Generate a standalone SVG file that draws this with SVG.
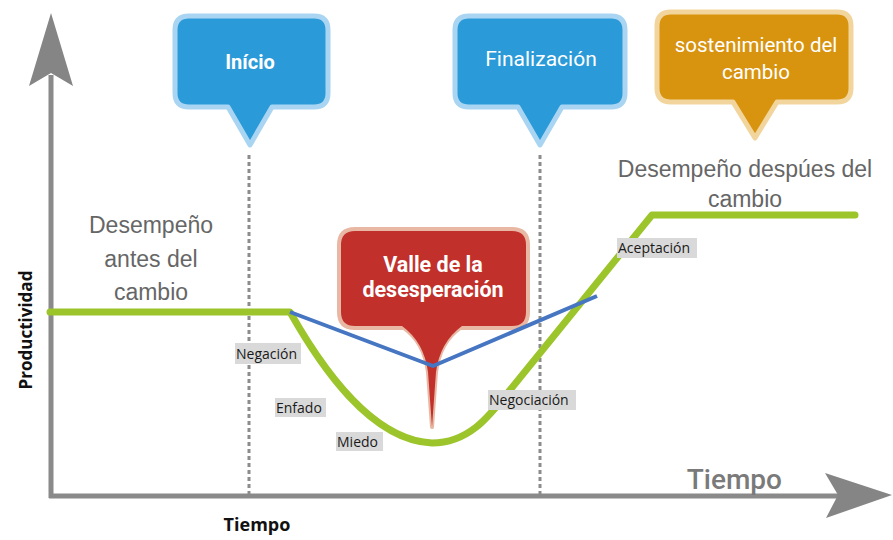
<svg xmlns="http://www.w3.org/2000/svg" width="893" height="540" viewBox="0 0 893 540">
<style>
.axis{stroke:#8a8a8a;stroke-width:5;fill:none}
.head{fill:#858585}
.dash{stroke:#8c8c8c;stroke-width:3;stroke-dasharray:4 3;fill:none}
.lbl{font-family:"Open Sans","Liberation Sans",sans-serif;font-size:14px;fill:#1a1a1a}
.lblbg{fill:#d9d9d9}
.gray{font-family:"Liberation Sans",Arial,sans-serif;font-size:23px;fill:#666;text-anchor:middle}
.ctext{font-family:Roboto,"Liberation Sans",Arial,sans-serif;fill:#fff;text-anchor:middle}
.blue{fill:#2a9ad8;stroke:#a9d5f2;stroke-width:5;stroke-linejoin:round}
</style>
<rect width="893" height="540" fill="#fff"/>
<g id="axes">
<line class="axis" x1="51" y1="498" x2="51" y2="75"/>
<polygon class="head" points="51,13 73,86 51,73 29,86"/>
<line class="axis" x1="49" y1="496" x2="840" y2="496"/>
<polygon class="head" points="892,495 825,473 838,495 826,518"/>
</g>
<g id="dividers">
<line class="dash" x1="249" y1="155" x2="249" y2="494"/>
<line class="dash" x1="540" y1="155" x2="540" y2="494"/>
</g>
<g id="connectors">
<path d="M50,312 H290 C320,365 370,440 432,443 C470,443 490,415 510,390 L652,215 H855" fill="none" stroke="#9cc42b" stroke-width="7" stroke-linecap="round" stroke-linejoin="round"/>
</g>
<g id="valle">
<path d="M355,229 H512 Q528,229 528,245 V312 Q528,328 512,328 H460 Q440,342 436,372 L432,427 L428,372 Q424,342 404,328 H355 Q339,328 339,312 V245 Q339,229 355,229 Z" fill="#c1302b" stroke="#e9b8a4" stroke-width="4" stroke-linejoin="round"/>
<path d="M462,326 Q440,342 436,372 L432,427 L428,372 Q424,342 402,326 Z" fill="#c1302b"/>
<text class="ctext" x="433" y="272" font-size="21.5" font-weight="bold">Valle de la</text>
<text class="ctext" x="433" y="297" font-size="21.5" font-weight="bold">desesperación</text>
</g>
<g id="blue-line">
<polyline points="290,312 433,366 597,296" fill="none" stroke="#4676c2" stroke-width="4" stroke-linejoin="round"/>
</g>
<g id="inicio">
<path class="blue" d="M189,16 H314 Q328,16 328,30 V93 Q328,107 314,107 H272 L250,145 L228,107 H189 Q175,107 175,93 V30 Q175,16 189,16 Z"/>
<text class="ctext" x="250" y="69" font-size="20" font-weight="bold">Início</text>
</g>
<g id="finalizacion">
<path class="blue" d="M469,16 H611 Q625,16 625,30 V93 Q625,107 611,107 H562 L540,145 L518,107 H469 Q455,107 455,93 V30 Q455,16 469,16 Z"/>
<text class="ctext" x="541" y="66" font-size="21">Finalización</text>
</g>
<g id="sostenimiento">
<path d="M671,12 H837 Q851,12 851,26 V88 Q851,102 837,102 H777 L755,138 L733,102 H671 Q657,102 657,88 V26 Q657,12 671,12 Z" fill="#d8930f" stroke="#f1d59c" stroke-width="5" stroke-linejoin="round"/>
<text class="ctext" x="756" y="52" font-size="20.5">sostenimiento del</text>
<text class="ctext" x="756" y="79" font-size="20.5">cambio</text>
</g>
<g id="antes">
<text class="gray" x="151" y="233" font-size="22">Desempeño</text>
<text class="gray" x="151" y="267" font-size="22">antes del</text>
<text class="gray" x="151" y="300" font-size="22">cambio</text>
</g>
<g id="despues">
<text class="gray" x="745" y="177">Desempeño despúes del</text>
<text class="gray" x="745" y="207">cambio</text>
</g>
<g id="negacion">
<rect class="lblbg" x="235" y="343" width="66" height="21"/>
<text class="lbl" x="236" y="359">Negación</text>
</g>
<g id="enfado">
<rect class="lblbg" x="275" y="398" width="51" height="19"/>
<text class="lbl" x="276" y="413">Enfado</text>
</g>
<g id="miedo">
<rect class="lblbg" x="336" y="432" width="47" height="19"/>
<text class="lbl" x="337" y="447">Miedo</text>
</g>
<g id="negociacion">
<rect class="lblbg" x="488" y="390" width="88" height="20"/>
<text class="lbl" x="489" y="405">Negociación</text>
</g>
<g id="aceptacion">
<rect class="lblbg" x="617" y="238" width="80" height="20"/>
<text class="lbl" x="618" y="253">Aceptación</text>
</g>
<g id="axis-labels">
<text x="782" y="489" font-family="Roboto,'Liberation Sans',sans-serif" font-size="28" font-weight="500" fill="#7a7a7a" text-anchor="end">Tiempo</text>
<text x="257" y="531" font-family="'Open Sans','Liberation Sans',sans-serif" font-size="18" font-weight="bold" fill="#111" text-anchor="middle">Tiempo</text>
<text transform="translate(32,330) rotate(-90)" font-family="'Open Sans','Liberation Sans',sans-serif" font-size="17" font-weight="bold" fill="#111" text-anchor="middle">Productividad</text>
</g>
</svg>
